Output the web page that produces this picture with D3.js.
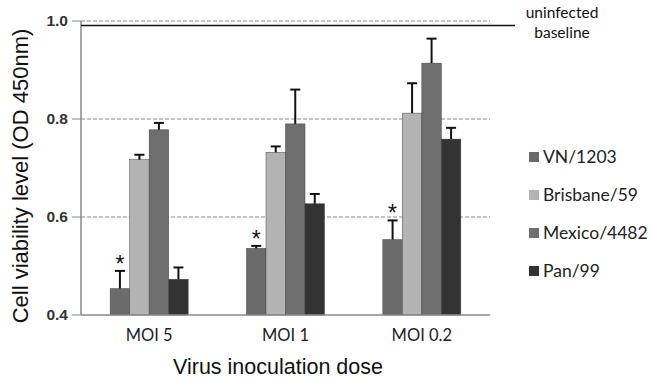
<!DOCTYPE html>
<html>
<head>
<meta charset="utf-8">
<script src="https://cdn.jsdelivr.net/npm/d3@7"></script>
<style>
  body { margin: 0; background: #fff; }
  svg { display: block; }
</style>
</head>
<body>
<div id="chart"></div>
<script>
// Data
var categories = ["MOI 5", "MOI 1", "MOI 0.2"];
var seriesNames = ["VN/1203", "Brisbane/59", "Mexico/4482", "Pan/99"];
var seriesColors = ["#6b6b6b", "#b3b3b3", "#6e6e6e", "#333333"];

var vnValues = [0.454, 0.536, 0.554];
var vnErrors = [0.036, 0.005, 0.039];
var brisbaneValues = [0.717, 0.732, 0.812];
var brisbaneErrors = [0.010, 0.012, 0.061];
var mexicoValues = [0.778, 0.790, 0.914];
var mexicoErrors = [0.014, 0.070, 0.050];
var panValues = [0.473, 0.627, 0.759];
var panErrors = [0.024, 0.020, 0.023];

var significant = [true, true, true]; // VN/1203 marked with *
var yTicks = [0.4, 0.6, 0.8, 1.0];
var gridTicks = [0.6, 0.8, 1.0];
var baselineValue = 0.991;

var values = [vnValues, brisbaneValues, mexicoValues, panValues];
var errors = [vnErrors, brisbaneErrors, mexicoErrors, panErrors];

var width = 650, height = 380;
var plot = { left: 81, right: 490, top: 21, bottom: 315 };

var svg = d3.select("#chart").append("svg")
  .attr("width", width)
  .attr("height", height);

var y = d3.scaleLinear().domain([0.4, 1.0]).range([plot.bottom, plot.top]);
var x0 = d3.scaleBand().domain(categories).range([plot.left, plot.right]);
var groupWidth = 78;
var x1 = d3.scaleBand().domain(seriesNames).range([0, groupWidth]);
var groupOffset = (x0.bandwidth() - groupWidth) / 2;

// grid lines
svg.append("g").selectAll("line")
  .data(gridTicks)
  .enter().append("line")
  .attr("x1", plot.left)
  .attr("x2", plot.right)
  .attr("y1", function (d) { return y(d); })
  .attr("y2", function (d) { return y(d); })
  .style("stroke", "#8a8a8a")
  .style("stroke-width", "1px")
  .style("stroke-dasharray", "4,2");

// bars
var rows = [];
categories.forEach(function (c, i) {
  seriesNames.forEach(function (s, j) {
    rows.push({ cat: c, ser: s, j: j, value: values[j][i], err: errors[j][i], star: j === 0 && significant[i] });
  });
});

var bars = svg.append("g").selectAll("g.bar")
  .data(rows)
  .enter().append("g")
  .attr("class", "bar")
  .attr("transform", function (d) { return "translate(" + (x0(d.cat) + groupOffset + x1(d.ser)) + ",0)"; });

bars.append("rect")
  .attr("x", 0)
  .attr("y", function (d) { return y(d.value); })
  .attr("width", x1.bandwidth())
  .attr("height", function (d) { return y(0.4) - y(d.value); })
  .style("fill", function (d) { return seriesColors[d.j]; })
  .style("stroke", "#444")
  .style("stroke-width", "0.5px");

var bw = x1.bandwidth();
bars.append("line")
  .attr("x1", bw / 2).attr("x2", bw / 2)
  .attr("y1", function (d) { return y(d.value); })
  .attr("y2", function (d) { return y(d.value + d.err); })
  .style("stroke", "#111")
  .style("stroke-width", "2px");

bars.append("line")
  .attr("x1", bw / 2 - 5).attr("x2", bw / 2 + 5)
  .attr("y1", function (d) { return y(d.value + d.err); })
  .attr("y2", function (d) { return y(d.value + d.err); })
  .style("stroke", "#111")
  .style("stroke-width", "2px");

bars.filter(function (d) { return d.star; })
  .append("text")
  .attr("x", bw / 2)
  .attr("y", function (d) { return y(d.value + d.err) + 1; })
  .attr("text-anchor", "middle")
  .style("font-family", "Liberation Sans, Arial, sans-serif")
  .style("font-size", "23px")
  .style("fill", "#111")
  .text("*");

// axes
svg.append("line")
  .attr("x1", plot.left).attr("x2", plot.left)
  .attr("y1", y(1.0)).attr("y2", y(0.4))
  .style("stroke", "#8a8a8a").style("stroke-width", "1.5px");
svg.append("line")
  .attr("x1", plot.left).attr("x2", plot.right)
  .attr("y1", y(0.4)).attr("y2", y(0.4))
  .style("stroke", "#8a8a8a").style("stroke-width", "1.5px");

var yAxis = svg.append("g");
yAxis.selectAll("line")
  .data(yTicks)
  .enter().append("line")
  .attr("x1", plot.left - 9).attr("x2", plot.left)
  .attr("y1", function (d) { return y(d); })
  .attr("y2", function (d) { return y(d); })
  .style("stroke", "#8a8a8a").style("stroke-width", "1px");
yAxis.selectAll("text")
  .data(yTicks)
  .enter().append("text")
  .attr("x", plot.left - 13)
  .attr("y", function (d) { return y(d); })
  .attr("dy", "0.35em")
  .attr("text-anchor", "end")
  .style("font-family", "Liberation Sans, Arial, sans-serif")
  .style("font-size", "15.5px")
  .style("font-weight", "bold")
  .style("fill", "#333")
  .text(function (d) { return d3.format(".1f")(d); });

svg.append("g").selectAll("text")
  .data(categories)
  .enter().append("text")
  .attr("x", function (d) { return x0(d) + x0.bandwidth() / 2; })
  .attr("y", 341)
  .attr("text-anchor", "middle")
  .style("font-family", "Lato, sans-serif")
  .style("font-size", "16.5px")
  .style("fill", "#222")
  .text(function (d) { return d; });

// axis titles
svg.append("text")
  .attr("x", 278).attr("y", 374)
  .attr("text-anchor", "middle")
  .style("font-family", "Liberation Sans, Arial, sans-serif")
  .style("font-size", "21.5px")
  .style("fill", "#111")
  .text("Virus inoculation dose");

svg.append("text")
  .attr("transform", "translate(28," + ((plot.top + plot.bottom) / 2 + 8) + ") rotate(-90)")
  .attr("text-anchor", "middle")
  .style("font-family", "Liberation Sans, Arial, sans-serif")
  .style("font-size", "22px")
  .style("fill", "#111")
  .text("Cell viability level (OD 450nm)");

// uninfected baseline
svg.append("line")
  .attr("x1", plot.left).attr("x2", 515)
  .attr("y1", y(baselineValue)).attr("y2", y(baselineValue))
  .style("stroke", "#111").style("stroke-width", "1.5px");
svg.append("text")
  .attr("x", 562).attr("y", 18)
  .attr("text-anchor", "middle")
  .style("font-family", "Lato, sans-serif")
  .style("font-size", "15.5px")
  .style("fill", "#111")
  .text("uninfected");
svg.append("text")
  .attr("x", 562).attr("y", 37.5)
  .attr("text-anchor", "middle")
  .style("font-family", "Lato, sans-serif")
  .style("font-size", "15.5px")
  .style("fill", "#111")
  .text("baseline");

// legend
var legendY = d3.scalePoint().domain(seriesNames).range([157, 271]);
var legend = svg.append("g").selectAll("g")
  .data(seriesNames)
  .enter().append("g")
  .attr("transform", function (d) { return "translate(529," + legendY(d) + ")"; });
legend.append("rect")
  .attr("x", 0).attr("y", -5)
  .attr("width", 10).attr("height", 10)
  .style("fill", function (d, i) { return seriesColors[i]; });
legend.append("text")
  .attr("x", 14).attr("y", 0)
  .attr("dy", "0.36em")
  .style("font-family", "Lato, sans-serif")
  .style("font-size", "17.5px")
  .style("fill", "#222")
  .text(function (d) { return d; });
</script>
</body>
</html>
